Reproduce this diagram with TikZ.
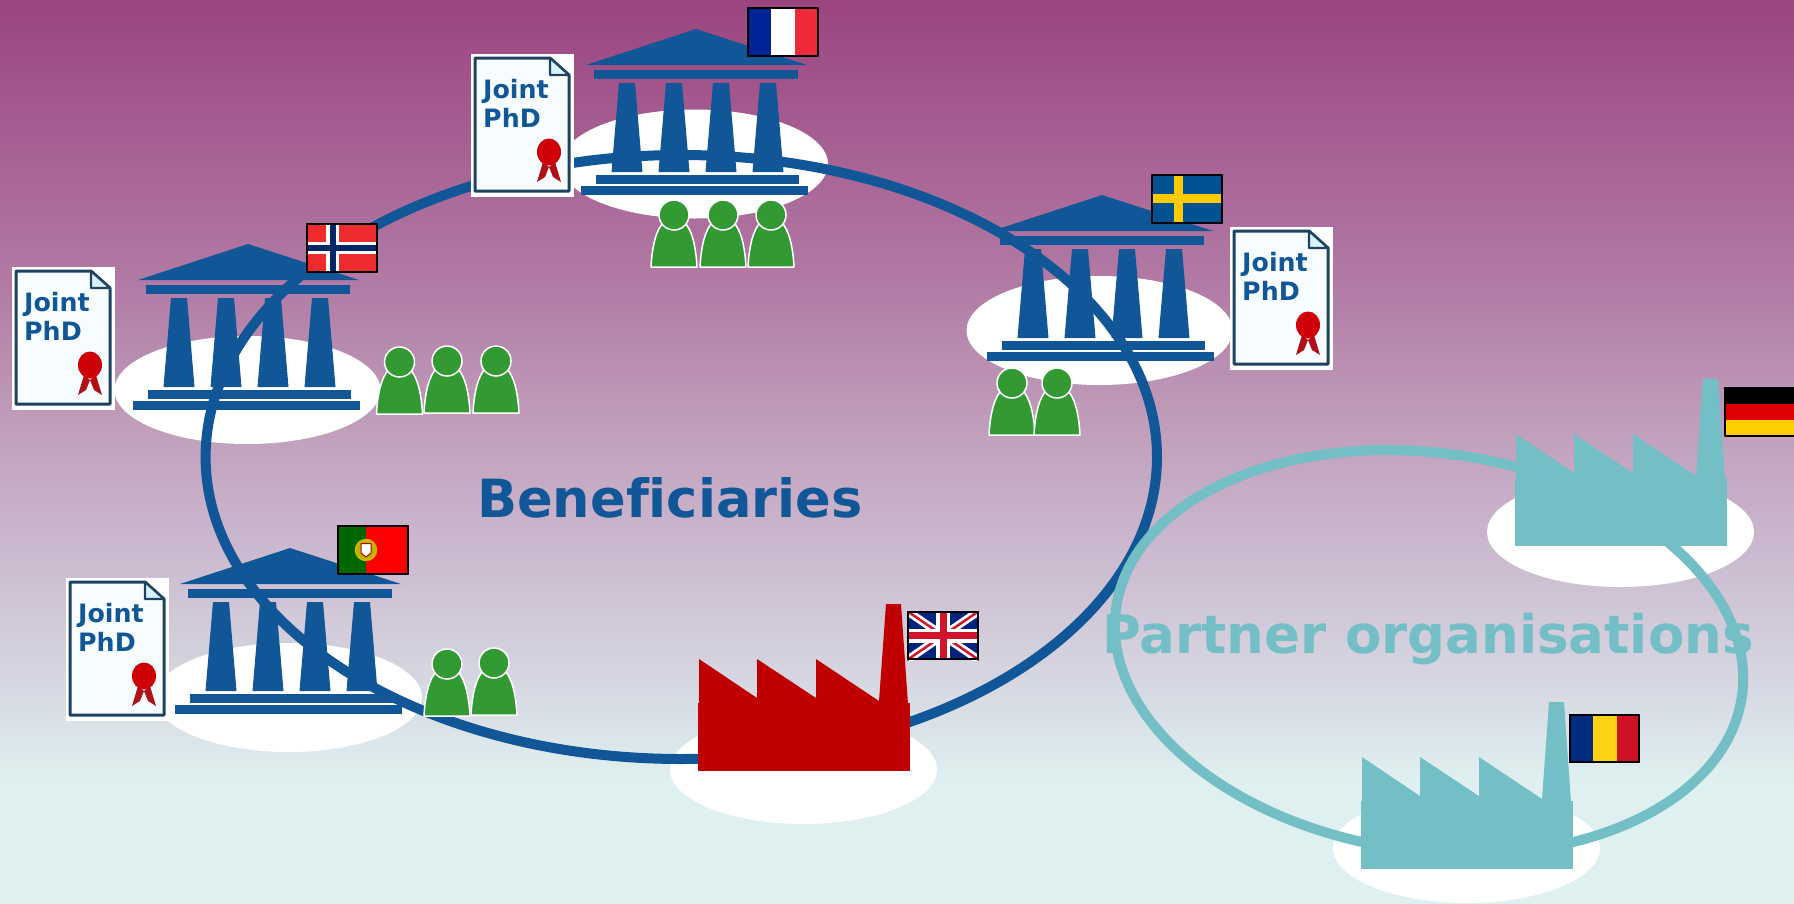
\documentclass[tikz,border=0pt]{standalone}
\usepackage{fontspec}
\setmainfont{DejaVu Sans}[Ligatures=NoCommon]
\definecolor{bga}{RGB}{155,68,128}
\definecolor{bgb}{RGB}{178,124,166}
\definecolor{bgc}{RGB}{192,157,186}
\definecolor{bgd}{RGB}{205,190,210}
\definecolor{bge}{RGB}{214,215,226}
\definecolor{bgf}{RGB}{223,240,240}
\definecolor{benblue}{RGB}{17,86,150}
\definecolor{partteal}{RGB}{116,191,198}
\definecolor{factred}{RGB}{192,0,0}
\definecolor{peoplegreen}{RGB}{51,153,51}
\definecolor{docedge}{RGB}{30,66,96}
\definecolor{sealred}{RGB}{208,0,8}
\definecolor{ribbonred}{RGB}{176,16,24}
\definecolor{frblue}{RGB}{0,35,149}
\definecolor{frred}{RGB}{239,41,57}
\definecolor{seblue}{RGB}{0,82,147}
\definecolor{seyellow}{RGB}{254,203,0}
\definecolor{nored}{RGB}{239,43,45}
\definecolor{noblue}{RGB}{0,40,104}
\definecolor{ptgreen}{RGB}{0,102,0}
\definecolor{ukblue}{RGB}{0,36,125}
\definecolor{ukred}{RGB}{207,20,43}
\definecolor{dered}{RGB}{221,0,0}
\definecolor{deyellow}{RGB}{255,206,0}
\definecolor{roblue}{RGB}{0,43,127}
\definecolor{royellow}{RGB}{252,209,22}
\definecolor{rored}{RGB}{206,17,38}
\pgfdeclareverticalshading{bgfade}{100bp}{color(0bp)=(bgf); color(25bp)=(bgf); color(31.8bp)=(bgf); color(37.3bp)=(bge); color(43.4bp)=(bgd); color(51.7bp)=(bgc); color(58.9bp)=(bgb); color(75bp)=(bga); color(100bp)=(bga)}
\begin{document}
\begin{tikzpicture}[x=1pt,y=-1pt,line join=round]
	\tikzset{
		island/.style={fill=white},
		bigtext/.style={font=\bfseries\fontsize{53}{54}\selectfont,anchor=base west,inner sep=0pt},
		flagframe/.style={draw=black,line width=2pt},
		pics/temple/.style={code={
			\fill[benblue] (0,0)--(111,36)--(-110,36)--cycle;
			\fill[benblue] (-102,41) rectangle (102,50);
			\foreach \cx in {-69,-22,25,72}
				\fill[benblue] (\cx-8,54)--(\cx+8,54)--(\cx+15.5,143)--(\cx-15.5,143)--cycle;
			\fill[benblue] (-100,146) rectangle (103,155);
			\fill[benblue] (-115,157) rectangle (112,166);
		}},
		pics/factory/.style={code={
			\fill[#1] (1,1)--(1,-44)--(59,-5)--(59,-44)--(118,-5)--(118,-44)--(181,-2)--(188,-99)--(203,-99)--(210,1)--cycle;
			\fill[#1] (0,0) rectangle (212,68);
		}},
		pics/person/.style={code={
			\filldraw[fill=peoplegreen,draw=white,line width=1.5pt] (-23,52)..controls (-22,32) and (-18,14)..(-10,7)--(10,7)..controls (18,14) and (22,32)..(23,52)--cycle;
			\filldraw[fill=peoplegreen,draw=white,line width=1.5pt] (0,0) circle [radius=15];
		}},
		pics/diploma/.style={code={
			\fill[white] (0,0) rectangle (103,143);
			\filldraw[fill=white!97!cyan,draw=docedge,line width=3pt] (4,4)--(79,4)--(98,21)--(98,137)--(4,137)--cycle;
			\filldraw[fill=cyan!15!white,draw=docedge,line width=2.2pt] (79,4)--(79,21)--(98,21)--cycle;
			\node (txt) [anchor=north west,inner sep=0pt,align=left,text=benblue,font=\bfseries\fontsize{25.3}{29}\selectfont] at (12,25) {Joint\\PhD};
			\fill[ribbonred] (72,108)--(66,128)--(74,123)--(78,113)--cycle;
			\fill[ribbonred] (84,108)--(90,128)--(82,123)--(78,113)--cycle;
			\fill[sealred] (78,98) ellipse [x radius=12,y radius=13.5];
		}},
		pics/flagfr/.style={code={
			\fill[white] (0,0) rectangle (72,50);
			\fill[frblue] (0,0) rectangle (24,50);
			\fill[frred] (48,0) rectangle (72,50);
			\draw[flagframe] (1,1) rectangle (71,49);
		}},
		pics/flagse/.style={code={
			\fill[seblue] (0,0) rectangle (72,50);
			\fill[seyellow] (23,0) rectangle (32,50);
			\fill[seyellow] (0,19.5) rectangle (72,29);
			\draw[flagframe] (1,1) rectangle (71,49);
		}},
		pics/flagno/.style={code={
			\fill[nored] (0,0) rectangle (72,50);
			\fill[white] (20,0) rectangle (33,50);
			\fill[white] (0,19) rectangle (72,31);
			\fill[noblue] (24,0) rectangle (30,50);
			\fill[noblue] (0,22) rectangle (72,28);
			\draw[flagframe] (1,1) rectangle (71,49);
		}},
		pics/flagpt/.style={code={
			\fill[red] (0,0) rectangle (72,50);
			\fill[ptgreen] (0,0) rectangle (29,50);
			\filldraw[fill=olive!60!yellow,draw=seyellow!80!ptgreen,line width=2.5pt] (29,25) circle [radius=10];
			\filldraw[fill=white,draw=red!70!black,line width=1pt] (24,18.5)--(34,18.5)--(34,28)--(29,32)--(24,28)--cycle;
			\draw[flagframe] (1,1) rectangle (71,49);
		}},
		pics/flaguk/.style={code={
			\fill[ukblue] (0,0) rectangle (72,49);
			\begin{scope}
				\clip (0,0) rectangle (72,49);
				\draw[white,line width=8pt] (0,0)--(72,49) (72,0)--(0,49);
				\draw[ukred,line width=2.5pt] (0,0)--(72,49) (72,0)--(0,49);
			\end{scope}
			\fill[white] (29,0) rectangle (43,49);
			\fill[white] (0,17.5) rectangle (72,31.5);
			\fill[ukred] (32.5,0) rectangle (39.5,49);
			\fill[ukred] (0,21) rectangle (72,28);
			\draw[flagframe] (1,1) rectangle (71,48);
		}},
		pics/flagde/.style={code={
			\fill[black] (0,0) rectangle (72,16.5);
			\fill[dered] (0,16.5) rectangle (72,32.5);
			\fill[deyellow] (0,32.5) rectangle (72,50);
			\draw[flagframe] (1,1) rectangle (71,49);
		}},
		pics/flagro/.style={code={
			\fill[roblue] (0,0) rectangle (24,49);
			\fill[royellow] (24,0) rectangle (47.5,49);
			\fill[rored] (47.5,0) rectangle (71,49);
			\draw[flagframe] (1,1) rectangle (70,48);
		}}
	}
	\useasboundingbox (0,0) rectangle (1794,903);
	\shade[shading=bgfade] (0,0) rectangle (1794,903);
	% white grounds
	\fill[island] (694.5,164) ellipse [x radius=133.5,y radius=54.5];
	\fill[island] (1099.5,330.5) ellipse [x radius=133,y radius=54.5];
	\fill[island] (247.5,390) ellipse [x radius=133,y radius=54];
	\fill[island] (288.5,697.5) ellipse [x radius=133.5,y radius=54.5];
	\fill[island] (803.5,769.5) ellipse [x radius=133.5,y radius=54.5];
	\fill[island] (1620.5,532) ellipse [x radius=133.5,y radius=55];
	\fill[island] (1466.5,848) ellipse [x radius=133.5,y radius=55];
	% rings
	\draw[benblue,line width=10pt] (681.3,457) ellipse [x radius=475.7,y radius=302];
	\draw[partteal,line width=10pt,rotate around={-8:(1429,652)}] (1429,652) ellipse [x radius=316,y radius=199];
	% institutions
	\pic at (696,29) {temple};
	\pic at (1102,195) {temple};
	\pic at (248,244) {temple};
	\pic at (290,548) {temple};
	\pic at (698,703) {factory=factred};
	\pic at (1515,478) {factory=partteal};
	\pic at (1361,801) {factory=partteal};
	\pic at (747,7) {flagfr};
	\pic at (1151,174) {flagse};
	\pic at (306,223) {flagno};
	\pic at (337,525) {flagpt};
	\pic at (907,611) {flaguk};
	\pic at (1724,387) {flagde};
	\pic at (1569,714) {flagro};
	\pic (dipfr) at (471,54) {diploma};
	\pic (dipse) at (1230,227) {diploma};
	\pic (dipno) at (12,267) {diploma};
	\pic (dippt) at (66,578) {diploma};
	\foreach \px/\py in {674/215,723/215,771/215,1012/383,1057/383,399.5/362,447/361,496/361,447/664,494/663}
		\pic at (\px,\py) {person};
	\node (beneficiaries) [bigtext,text=benblue,font=\bfseries\fontsize{52.6}{54}\selectfont] at (477,517) {Beneficiaries};
	\node (partners) [bigtext,text=partteal] at (1102,653) {Partner organisations};
\end{tikzpicture}
\end{document}
